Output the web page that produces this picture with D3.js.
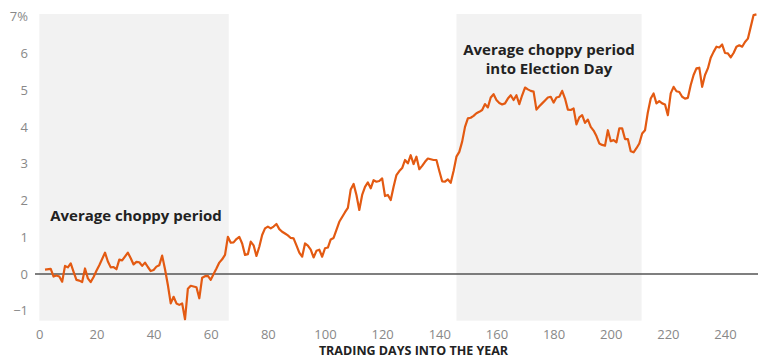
<!DOCTYPE html>
<html>
<head>
<meta charset="utf-8">
<script src="https://cdn.jsdelivr.net/npm/d3@7"></script>
<style>
  body { margin: 0; background: #fff; }
  svg { display: block; font-family: "Open Sans", sans-serif; }
</style>
</head>
<body>
<div id="chart"></div>
<script>
// trading day / average cumulative return (%)
const days = [2,4,5,6,7,8,9,10,11,12,13,14,15,16,17,18,19,20,21,23,24,25,26,27,28,29,31,32,33,34,35,36,37,38,39,40,
  41,42,43,44,45,46,47,48,49,50,51,52,53,54,55,56,57,58,59,60,61,62,63,64,65,66,67,68,69,70,
  71,72,73,74,75,76,77,78,79,80,81,82,83,84,85,86,87,88,89,90,91,92,93,94,95,96,97,98,99,100,
  101,102,103,104,105,106,107,108,109,110,111,112,113,114,115,116,117,118,119,120,121,122,123,124,125,126,127,128,129,130,
  131,132,133,134,135,136,137,138,139,140,141,142,143,144,145,146,147,148,149,150,151,152,153,154,155,156,157,158,159,160,
  161,162,163,164,165,166,167,168,169,170,171,172,173,174,175,176,177,178,179,180,181,182,183,184,185,186,187,188,189,190,
  191,192,193,194,195,196,197,198,199,200,201,202,203,204,205,206,207,208,209,210,211,212,213,214,215,216,217,218,219,220,
  221,222,223,224,225,226,227,228,229,230,231,232,233,234,235,236,237,238,239,240,241,242,243,244,245,246,247,248,249,250,251];
const returns = [0.12,0.14,-0.07,-0.04,-0.07,-0.21,0.22,0.18,0.29,0.06,-0.16,-0.18,-0.22,0.15,-0.12,-0.22,-0.08,0.09,0.24,0.58,0.34,0.18,0.19,0.13,0.39,0.37,0.58,0.43,0.26,0.33,0.32,0.22,0.31,0.19,0.08,0.11,
  0.20,0.24,0.50,0.13,-0.30,-0.80,-0.62,-0.80,-0.84,-0.80,-1.23,-0.40,-0.32,-0.34,-0.36,-0.66,-0.10,-0.06,-0.05,-0.16,0.0,0.15,0.31,0.40,0.52,1.01,0.85,0.86,0.95,1.01,
  0.83,0.52,0.54,0.88,0.78,0.49,0.74,1.06,1.24,1.29,1.24,1.29,1.36,1.22,1.15,1.10,1.05,0.98,0.97,0.78,0.58,0.47,0.83,0.77,0.66,0.45,0.63,0.66,0.47,0.70,
  0.72,0.94,0.98,1.20,1.42,1.55,1.68,1.80,2.30,2.45,2.15,1.74,2.15,2.37,2.49,2.33,2.55,2.51,2.53,2.60,2.12,2.15,2.01,2.37,2.69,2.80,2.88,3.10,3.01,3.23,
  2.99,3.19,2.85,2.94,3.05,3.14,3.12,3.10,3.10,2.80,2.52,2.51,2.57,2.48,2.80,3.19,3.32,3.60,4.00,4.23,4.25,4.30,4.37,4.41,4.46,4.62,4.53,4.80,4.89,4.73,
  4.65,4.61,4.64,4.77,4.86,4.73,4.86,4.62,4.86,5.07,5.02,4.98,4.96,4.47,4.56,4.64,4.72,4.80,4.82,4.66,4.80,4.82,4.98,4.77,4.47,4.46,4.50,4.07,4.26,4.32,
  4.11,4.20,4.00,3.90,3.75,3.55,3.51,3.49,3.91,3.61,3.64,3.58,3.96,3.96,3.67,3.67,3.34,3.31,3.42,3.55,3.82,3.91,4.40,4.77,4.91,4.64,4.70,4.64,4.61,4.32,
  4.91,5.09,4.97,4.95,4.82,4.77,4.79,5.14,5.41,5.59,5.61,5.09,5.41,5.59,5.88,6.04,6.18,6.16,6.24,6.01,6.00,5.89,6.01,6.18,6.22,6.18,6.31,6.40,6.72,7.04,7.06];

const xTicks = [0,20,40,60,80,100,120,140,160,180,200,220,240];
const yTicks = [-1,0,1,2,3,4,5,6,7];
const periods = [[0, 66.3], [146, 210.8]];
const periodLabels = [["Average choppy period"], ["Average choppy period", "into Election Day"]];

const width = 758, height = 358;
const svg = d3.select("#chart").append("svg").attr("width", width).attr("height", height);

const x = d3.scaleLinear().domain([0, 252]).range([39.3, 759.3]);
const y = d3.scaleLinear().domain([-1.27, 7.07]).range([320.7, 14]);

const data = days.map((d, i) => ({ day: d, v: returns[i] }));

// shaded periods
svg.selectAll(".band").data(periods).join("rect")
  .attr("class", "band")
  .attr("x", d => x(d[0]))
  .attr("width", d => x(d[1]) - x(d[0]))
  .attr("y", y(7.07))
  .attr("height", y(-1.27) - y(7.07))
  .attr("fill", "#f2f2f2");

// period labels
const lab = svg.selectAll(".plabel").data(periods).join("text")
  .attr("class", "plabel")
  .attr("text-anchor", "middle")
  .attr("font-size", 15)
  .attr("font-weight", 700)
  .attr("fill", "#222");
lab.filter((d, i) => i === 0)
  .attr("x", 136)
  .attr("y", 221)
  .text(periodLabels[0][0]);
lab.filter((d, i) => i === 1)
  .selectAll("tspan").data(periodLabels[1]).join("tspan")
  .attr("x", 549)
  .attr("y", (d, i) => 55 + i * 19)
  .text(d => d);

// zero line
svg.append("line")
  .attr("x1", 35).attr("x2", width)
  .attr("y1", y(0)).attr("y2", y(0))
  .attr("stroke", "#555").attr("stroke-width", 1.3);

// y axis labels
const yAxis = d3.axisLeft(y).tickValues(yTicks).tickSize(0).tickPadding(0)
  .tickFormat(d => d === 7 ? "7%" : (d < 0 ? "\u2212" + Math.abs(d) : d));
svg.append("g").attr("transform", "translate(28,0)").call(yAxis)
  .call(g => g.select(".domain").remove())
  .call(g => g.selectAll("text").attr("font-family", "Open Sans, sans-serif").attr("font-size", 13).attr("fill", "#888"));

// x axis labels
const xAxis = d3.axisBottom(x).tickValues(xTicks).tickSize(0).tickPadding(0);
svg.append("g").attr("transform", "translate(0,330)").call(xAxis)
  .call(g => g.select(".domain").remove())
  .call(g => g.selectAll("text").attr("font-family", "Open Sans, sans-serif").attr("font-size", 13).attr("fill", "#888"));

svg.append("text")
  .attr("x", 413.5).attr("y", 354.5)
  .attr("text-anchor", "middle")
  .attr("font-size", 12.5).attr("font-weight", 700).attr("fill", "#222")
  .text("TRADING DAYS INTO THE YEAR");

// line
const line = d3.line().x(d => x(d.day)).y(d => y(d.v));
svg.append("path").datum(data)
  .attr("d", line)
  .attr("fill", "none")
  .attr("stroke", "#e35a12")
  .attr("stroke-width", 2.2)
  .attr("stroke-linejoin", "round");
</script>
</body>
</html>
